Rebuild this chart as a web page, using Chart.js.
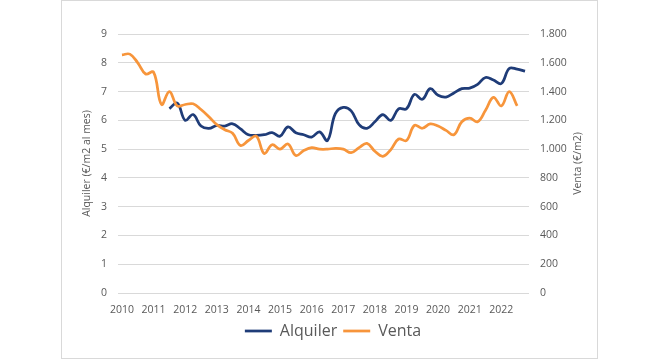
<!DOCTYPE html>
<html>
<head>
    <meta charset="UTF-8">
    <title>Alquiler y venta</title>
    <style>
        body {
            margin: 0;
            background: #fff;
            font-family: "Open Sans", sans-serif;
        }
        #wrap {
            position: relative;
            width: 658px;
            height: 361px;
        }
        #frame {
            position: absolute;
            left: 61px;
            top: 0;
            width: 535px;
            height: 357px;
            border: 1px solid #d9d9d9;
        }
        canvas {
            position: absolute;
            left: 0;
            top: 0;
        }
    </style>
    <script src="https://cdn.jsdelivr.net/npm/chart.js"></script>
</head>
<body>
<div id="wrap">
    <div id="frame"></div>
    <canvas id="chart" width="658" height="361"></canvas>
</div>
<script>
    // trimestres 2010T1 .. 2022T4
    const years = [2010, 2011, 2012, 2013, 2014, 2015, 2016, 2017, 2018, 2019, 2020, 2021, 2022];
    const quarters = [];
    years.forEach(y => { for (let q = 1; q <= 4; q++) quarters.push(y + 'T' + q); });

    // Alquiler (€/m2 al mes)
    const alquiler = [
        null, null, null, null, null, null, 6.41, 6.60, 6.00, 6.20, 5.80, 5.72, 5.82,
        5.80, 5.88, 5.70, 5.50, 5.48, 5.50, 5.57, 5.45, 5.77, 5.57, 5.50, 5.42, 5.60,
        5.30, 6.23, 6.45, 6.33, 5.85, 5.72, 5.95, 6.20, 6.00, 6.40, 6.40, 6.90, 6.73,
        7.10, 6.87, 6.81, 6.95, 7.10, 7.12, 7.25, 7.49, 7.40, 7.28, 7.80, 7.78, 7.71
    ];

    // Venta (€/m2)
    const venta = [
        1655, 1660, 1600, 1522, 1535, 1310, 1400, 1300, 1310, 1315, 1275, 1225, 1170,
        1135, 1110, 1025, 1060, 1090, 970, 1030, 1000, 1035, 955, 990, 1010, 1000,
        1000, 1005, 1000, 975, 1010, 1040, 985, 950, 995, 1070, 1060, 1165, 1145,
        1175, 1160, 1130, 1100, 1190, 1215, 1190, 1270, 1360, 1300, 1400, 1300, null
    ];

    const textColor = '#595959';
    const gridColor = '#d9d9d9';
    const rightTitle = 'Venta (€/m2)';

    // título del eje derecho girado como en Excel (de abajo hacia arriba)
    const rightTitlePlugin = {
        id: 'rightTitle',
        afterDraw(chart) {
            const s = chart.scales.y2;
            const ctx = chart.ctx;
            ctx.save();
            ctx.translate(s.right - 11, (chart.chartArea.top + chart.chartArea.bottom) / 2);
            ctx.rotate(-Math.PI / 2);
            ctx.fillStyle = textColor;
            ctx.font = '10.5px "Open Sans"';
            ctx.textAlign = 'center';
            ctx.textBaseline = 'middle';
            ctx.fillText(rightTitle, 0, 0);
            ctx.restore();
        }
    };

    new Chart(document.getElementById('chart'), {
        type: 'line',
        data: {
            labels: quarters,
            datasets: [{
                label: 'Alquiler',
                data: alquiler,
                borderColor: '#1f3c78',
                backgroundColor: '#1f3c78',
                borderWidth: 2.75,
                pointRadius: 0,
                tension: 0.4,
                yAxisID: 'y',
                order: 1
            }, {
                label: 'Venta',
                data: venta,
                borderColor: '#f7953b',
                backgroundColor: '#f7953b',
                borderWidth: 2.75,
                pointRadius: 0,
                tension: 0.4,
                yAxisID: 'y2',
                order: 0
            }]
        },
        plugins: [rightTitlePlugin],
        options: {
            responsive: false,
            animation: false,
            layout: {
                padding: { left: 77, right: 69, top: 34, bottom: 12 }
            },
            plugins: {
                tooltip: { enabled: false },
                legend: {
                    position: 'bottom',
                    labels: {
                        color: textColor,
                        font: { family: 'Open Sans', size: 16 },
                        usePointStyle: true,
                        pointStyle: 'line',
                        pointStyleWidth: 27,
                        boxHeight: 16,
                        padding: 6,
                        sort: (a, b) => a.datasetIndex - b.datasetIndex
                    }
                }
            },
            scales: {
                x: {
                    offset: true,
                    grid: { display: false },
                    border: { display: false },
                    afterFit: s => { s.height = 24; },
                    ticks: {
                        color: textColor,
                        font: { family: 'Open Sans', size: 10.5 },
                        padding: 3,
                        autoSkip: false,
                        maxRotation: 0,
                        callback: (v, i) => i % 4 === 0 ? quarters[i].slice(0, 4) : ''
                    }
                },
                y: {
                    position: 'left',
                    min: 0,
                    max: 9,
                    afterFit: s => { s.width = 41; },
                    grid: { color: gridColor, drawTicks: false },
                    border: { display: false },
                    ticks: {
                        stepSize: 1,
                        color: textColor,
                        font: { family: 'Open Sans', size: 10.5 },
                        padding: 11
                    },
                    title: {
                        display: true,
                        text: 'Alquiler (€/m2 al mes)',
                        color: textColor,
                        font: { family: 'Open Sans', size: 10.5 }
                    }
                },
                y2: {
                    position: 'right',
                    min: 0,
                    max: 1800,
                    afterFit: s => { s.width = 60; },
                    grid: { display: false, drawTicks: false },
                    border: { display: false },
                    ticks: {
                        stepSize: 200,
                        color: textColor,
                        font: { family: 'Open Sans', size: 10.5 },
                        padding: 11,
                        callback: v => v.toLocaleString('es-ES', { useGrouping: 'always' })
                    }
                }
            }
        }
    });
</script>
</body>
</html>
